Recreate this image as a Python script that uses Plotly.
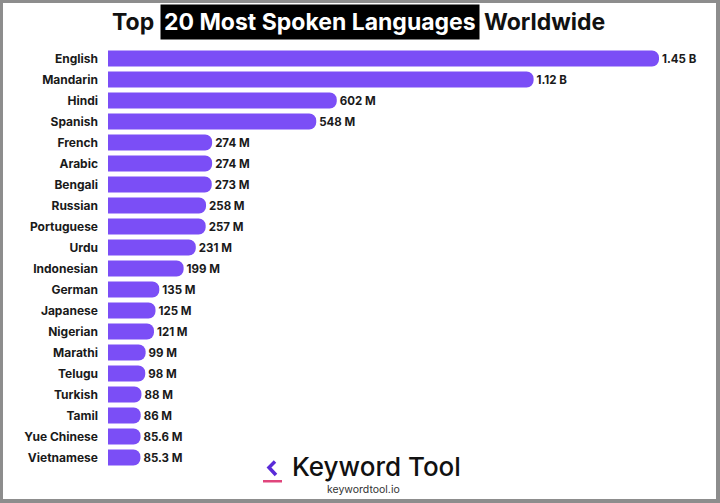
import plotly.graph_objects as go

# data (millions of speakers)
languages = ["English", "Mandarin", "Hindi", "Spanish", "French", "Arabic", "Bengali",
             "Russian", "Portuguese", "Urdu", "Indonesian", "German", "Japanese",
             "Nigerian", "Marathi", "Telugu", "Turkish", "Tamil", "Yue Chinese", "Vietnamese"]
speakers = [1450, 1120, 602, 548, 274, 274, 273, 258, 257, 231, 199, 135, 125, 121,
            99, 98, 88, 86, 85.6, 85.3]
value_labels = ["1.45 B", "1.12 B", "602 M", "548 M", "274 M", "274 M", "273 M", "258 M",
                "257 M", "231 M", "199 M", "135 M", "125 M", "121 M", "99 M", "98 M",
                "88 M", "86 M", "85.6 M", "85.3 M"]

W, H = 720, 503
L, R, T, B = 108, 61, 48, 35
PW, PH = W - L - R, H - T - B

BAR = "#7b4ef6"
FONT = "Inter"


# helpers to place decorations by pixel position
def px_x(px):
    return (px - L) / PW


def px_y(py):
    return (H - B - py) / PH


fig = go.Figure(go.Bar(
    x=speakers,
    y=languages,
    orientation="h",
    marker=dict(color=BAR, cornerradius=8, line=dict(width=0)),
    width=0.76,
    text=value_labels,
    textposition="outside",
    cliponaxis=False,
    textfont=dict(family=FONT, size=11.5, color="#1a1a1a", weight="bold"),
    hoverinfo="skip",
))

shapes = []
# grey frame round the picture
grey = "#8d8d8d"
for x0, y0, x1, y1 in [(0, 0, 720, 3), (0, 0, 3, 503), (716, 0, 720, 503), (0, 499, 720, 503)]:
    shapes.append(dict(type="rect", xref="paper", yref="paper",
                       x0=px_x(x0), x1=px_x(x1), y0=px_y(y1), y1=px_y(y0),
                       fillcolor=grey, line=dict(width=0), layer="above"))

# logo chevron and underline
chev = "M {} {} L {} {} L {} {}".format(px_x(275), px_y(461.5), px_x(269), px_y(467.5),
                                         px_x(276), px_y(475))
shapes.append(dict(type="path", xref="paper", yref="paper", path=chev,
                   line=dict(color="#5a2bd8", width=3.5)))
shapes.append(dict(type="rect", xref="paper", yref="paper",
                   x0=px_x(263), x1=px_x(282), y0=px_y(482.5), y1=px_y(480),
                   fillcolor="#e0457c", line=dict(width=0)))

title_font = dict(family=FONT, size=23, color="#111111", weight="bold")
annotations = [
    dict(text="Top", x=px_x(156), y=px_y(22), xanchor="right", yanchor="middle",
         font=title_font),
    dict(text="20 Most Spoken Languages", x=px_x(319.5), y=px_y(22.5), xanchor="center",
         yanchor="middle", bgcolor="#000000", borderpad=3,
         font=dict(title_font, color="#ffffff")),
    dict(text="Worldwide", x=px_x(482), y=px_y(22), xanchor="left", yanchor="middle",
         font=title_font),
    dict(text="Keyword Tool", x=px_x(290), y=px_y(466), xanchor="left", yanchor="middle",
         font=dict(family=FONT, size=26, color="#111111", weight=500)),
    dict(text="keywordtool.io", x=px_x(363), y=px_y(489), xanchor="center", yanchor="middle",
         font=dict(family=FONT, size=10.5, color="#333333")),
]
for a in annotations:
    a.update(xref="paper", yref="paper", showarrow=False)

fig.update_layout(
    width=W, height=H,
    margin=dict(l=L, r=R, t=T, b=B),
    paper_bgcolor="white",
    plot_bgcolor="white",
    showlegend=False,
    shapes=shapes,
    annotations=annotations,
    xaxis=dict(range=[0, 1450], visible=False, fixedrange=True),
    yaxis=dict(range=[19.5, -0.5], showgrid=False, zeroline=False, showline=False,
               ticks="", ticklabelstandoff=9,
               tickfont=dict(family=FONT, size=12, color="#1a1a1a", weight="bold"),
               fixedrange=True),
)

# drop the browser's default page margin so the figure sits at the corner
fig.write_html("out.html", config={"displayModeBar": False},
               post_script="document.body.style.margin = '0';")
